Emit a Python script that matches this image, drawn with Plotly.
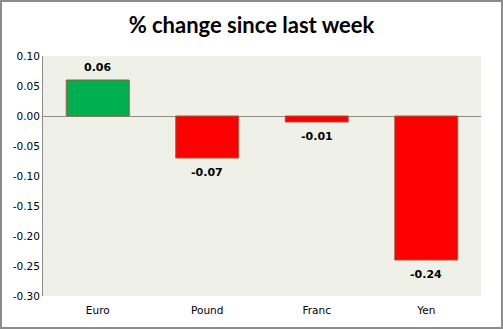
import plotly.graph_objects as go

categories = ["Euro", "Pound", "Franc", "Yen"]
values = [0.06, -0.07, -0.01, -0.24]
bar_colors = ["#00B050", "#FF0000", "#FF0000", "#FF0000"]
tick_vals = [0.10, 0.05, 0.00, -0.05, -0.10, -0.15, -0.20, -0.25, -0.30]
tick_text = ["0.10", "0.05", "0.00", "-0.05", "-0.10", "-0.15", "-0.20", "-0.25", "-0.30"]

W, H = 503, 329
ml, mr, mt, mb = 43, 22, 56, 33
pw, ph = W - ml - mr, H - mt - mb

fig = go.Figure(go.Bar(
    x=categories, y=values,
    marker=dict(color=bar_colors, line=dict(color="#9C5B35", width=1)),
    width=0.575,
))

annotations = []
for c, v in zip(categories, values):
    annotations.append(dict(
        x=c, y=v, xref="x", yref="y", text=f"<b>{v:.2f}</b>", showarrow=False,
        yanchor="bottom" if v >= 0 else "top", yshift=4 if v >= 0 else -6,
        font=dict(family="DejaVu Sans", size=11, color="#000000"),
    ))

fig.update_layout(
    width=W, height=H,
    margin=dict(l=ml, r=mr, t=mt, b=mb, pad=0),
    paper_bgcolor="#FFFFFF",
    plot_bgcolor="#EFF1E9",
    showlegend=False,
    title=dict(text="<b>% change since last week</b>", x=0.5, xanchor="center",
               y=1 - 25 / H, yanchor="middle",
               font=dict(family="Lato", size=22, color="#000000")),
    font=dict(family="DejaVu Sans", size=10, color="#000000"),
    xaxis=dict(showline=False, showgrid=False, ticks="", ticklabelstandoff=6,
               tickfont=dict(family="DejaVu Sans", size=10.5)),
    yaxis=dict(range=[-0.30, 0.10], tickvals=tick_vals, ticktext=tick_text,
               showgrid=False, zeroline=True, zerolinecolor="#8C8C8C", zerolinewidth=1,
               showline=True, linecolor="#8C8C8C", linewidth=1, ticks="",
               tickfont=dict(family="DejaVu Sans", size=10.5)),
    annotations=annotations,
    shapes=[dict(type="rect", xref="paper", yref="paper",
                 x0=-(ml - 1) / pw, x1=1 + (mr - 1) / pw,
                 y0=-(mb - 1) / ph, y1=1 + (mt - 1) / ph,
                 line=dict(color="#8C8C8C", width=2), fillcolor="rgba(0,0,0,0)")],
)

fig.write_html("out.html")
